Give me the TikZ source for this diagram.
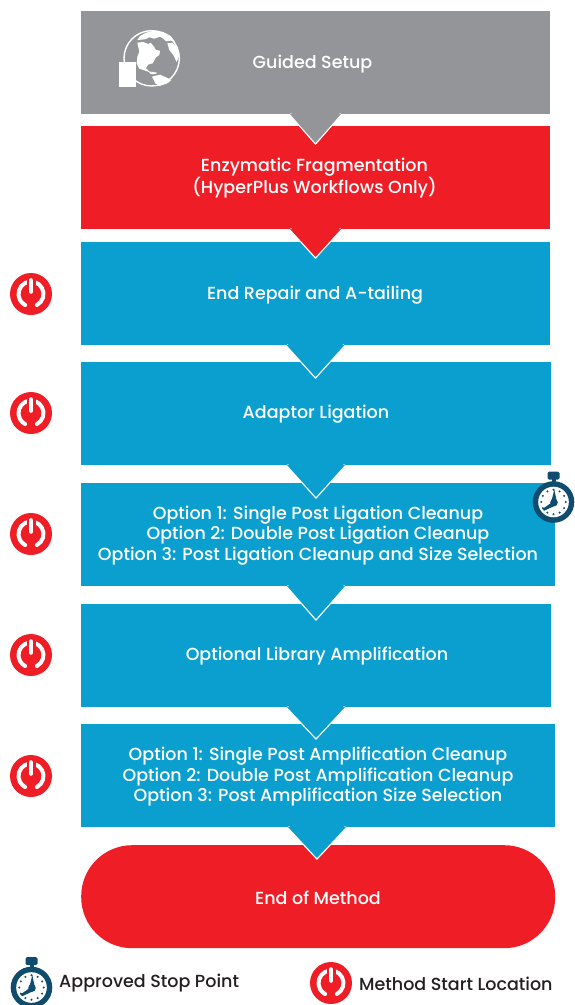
\documentclass[tikz,border=0pt]{standalone}
\usepackage{fontspec}
\setmainfont{Poppins Medium}
\usetikzlibrary{calc}
\definecolor{cgray}{HTML}{939598}
\definecolor{cred}{HTML}{EF1D26}
\definecolor{cblue}{HTML}{0A9FCE}
\definecolor{cdark}{HTML}{0F4C6E}
\definecolor{ctext}{HTML}{231F20}
\tikzset{
  lbl/.style={text=white,align=center,font=\fontsize{17.5}{20.5}\selectfont},
  legend/.style={text=ctext,anchor=west,inner sep=0pt,font=\fontsize{17.5}{20}\selectfont},
  stagebox/.style={inner sep=0pt,minimum height=103pt,anchor=north west},
  power/.pic={
    \fill[cred] (0,0) circle (21);
    \draw[white,line width=4,line cap=round] (62:12.5) arc (62:-242:12.5);
    \draw[cred,line width=9] (0,-6)--(0,-17);
    \draw[white,line width=4.6,line cap=round] (0,-2.5)--(0,-13.5);
  },
  watch/.pic={
    \fill[cdark,rounded corners=1.5] (-6,-30.5) rectangle (6,-22.5);
    \fill[cdark] (-2,-24) rectangle (2,-18);
    \fill[cdark] (0,0) circle (20.8);
    \fill[white] (0,0) circle (15.3);
    \foreach \a in {0,30,...,330} \fill[cdark] (\a:12.2) circle (1.15);
    \fill[cdark] (-2.5,1) -- (0.8,-12.5) -- (3.5,0.5) -- (3,3) -- (-9.5,8.8) -- (-10.8,6.8) -- cycle;
    \fill[cdark] (0.5,0.5) circle (3.8);
  }
}
\newcommand{\chev}[5]{% colour, x-centre, half-width, y-top, y-tip
  \draw[white,line width=2.6,line join=miter] (#2-#3,#4) -- (#2,#5) -- (#2+#3,#4);
  \fill[#1] (#2-#3,#4) -- (#2,#5) -- (#2+#3,#4) -- cycle;
}
\begin{document}
\begin{tikzpicture}[x=1pt,y=-1pt]
\useasboundingbox (0,0) rectangle (575,1005);
% stages
\node[stagebox,fill=cgray,minimum width=469pt] (setup) at (81,11) {};
\node[stagebox,fill=cred,minimum width=469pt] (frag) at (81,126) {};
\node[stagebox,fill=cblue,minimum width=469pt] (repair) at (81,242) {};
\node[stagebox,fill=cblue,minimum width=470pt] (lig) at (81,362) {};
\node[stagebox,fill=cblue,minimum width=474pt] (clean) at (81,483) {};
\node[stagebox,fill=cblue,minimum width=470pt] (amp) at (81,604) {};
\node[stagebox,fill=cblue,minimum width=474pt] (ampclean) at (81,724) {};
\node[stagebox,fill=cred,minimum width=474pt,rounded corners=51pt] (end) at (81,845) {};
% chevrons
\chev{cgray}{315.5}{25.5}{114}{143}
\chev{cred}{315.5}{25.5}{229}{257}
\chev{cblue}{315.5}{29}{345}{377}
\chev{cblue}{316}{29}{465}{497}
\chev{cblue}{316}{29}{586}{619}
\chev{cblue}{316}{29}{707}{738}
\chev{cblue}{317}{29}{827}{858}
% labels
\node[lbl] (t1) at (312.5,63.8) {Guided Setup};
\node[lbl] (t2) at (314.5,178.3) {Enzymatic Fragmentation\\(HyperPlus Workflows Only)};
\node[lbl] (t3) at (315,294.8) {End Repair and A-tailing};
\node[lbl] (t4) at (316,413.8) {Adaptor Ligation};
\node[lbl] (t5) at (318,535.3) {Option 1: Single Post Ligation Cleanup\\Option 2: Double Post Ligation Cleanup\\Option 3: Post Ligation Cleanup and Size Selection};
\node[lbl] (t6) at (317,655.8) {Optional Library Amplification};
\node[lbl] (t7) at (318,776.8) {Option 1: Single Post Amplification Cleanup\\Option 2: Double Post Amplification Cleanup\\Option 3: Post Amplification Size Selection};
\node[lbl] (t8) at (318,897.8) {End of Method};
% globe
\begin{scope}[shift={(80,0)},scale=1/3]
  \draw[white,line width=1.4] (215,175) circle (83);
  \fill[white] (172,120) -- (180,108) -- (198,98) -- (222,92) -- (250,96) -- (272,108) -- (285,125) -- (272,122) -- (258,124) -- (250,116) -- (240,110) -- (222,116) -- (208,112) -- (195,118) -- cycle;
  \fill[white] (172,128) -- (190,126) -- (205,132) -- (212,128) -- (222,140) -- (228,150) -- (240,152) -- (238,165) -- (228,172) -- (218,190) -- (204,194) -- (198,205) -- (212,218) -- (196,212) -- (178,206) -- (170,190) -- (172,170) -- (178,155) -- cycle;
  \fill[white] (205,214) -- (232,218) -- (226,222) -- (212,222) -- cycle;
  \fill[white] (216,230) -- (240,224) -- (258,232) -- (274,240) -- (262,250) -- (238,258) -- (226,250) -- cycle;
  \fill[white] (262,130) -- (276,128) -- (292,140) -- (298,165) -- (290,186) -- (280,165) -- (268,150) -- cycle;
  \fill[white] (118,186) rectangle (167,261);
\end{scope}
% start icons
\path (31,294) pic {power};
\path (31,413) pic {power};
\path (31,534) pic {power};
\path (31,655) pic {power};
\path (31,776) pic {power};
\path (553.5,502) pic {watch};
% legend
\path (31.5,987.5) pic {watch};
\path (331,983) pic {power};
\node[legend] (l1) at (59,983.5) {Approved Stop Point};
\node[legend] (l2) at (359,983.5) {Method Start Location};
\end{tikzpicture}
\end{document}
